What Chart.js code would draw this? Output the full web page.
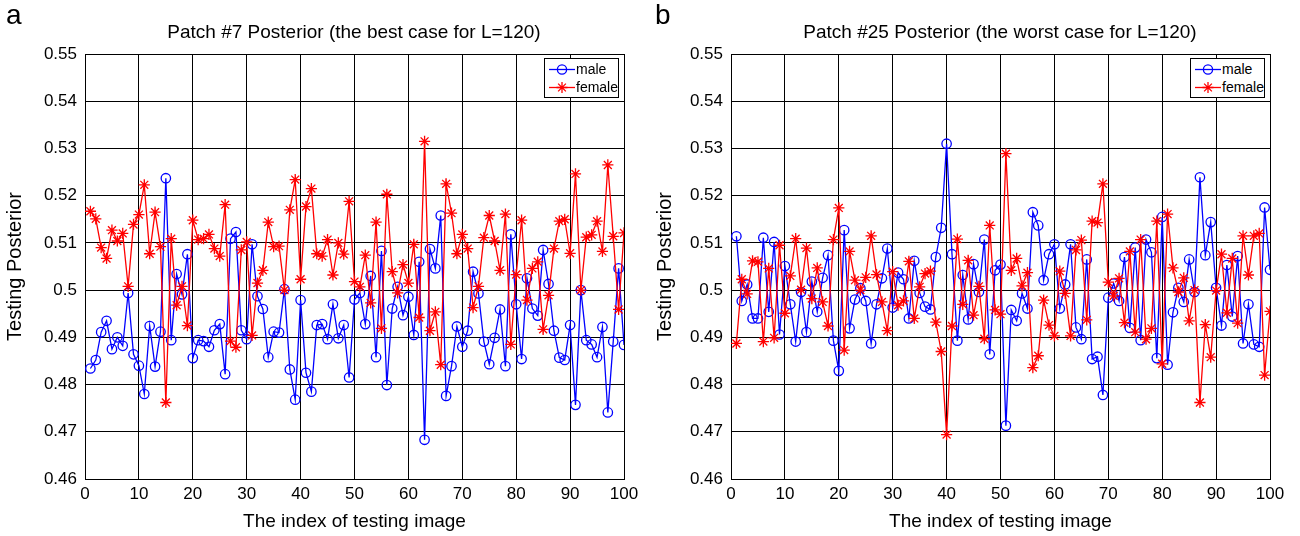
<!DOCTYPE html>
<html>
<head>
<meta charset="utf-8">
<script src="https://cdn.jsdelivr.net/npm/chart.js@4.4.0/dist/chart.umd.min.js"></script>
<style>
  html, body { margin: 0; padding: 0; background: #fff; }
  body { width: 1300px; height: 536px; position: relative; overflow: hidden; font-family: "Liberation Sans", Arial, sans-serif; color: #000; }
  .panel { position: absolute; top: 0; width: 650px; height: 536px; }
  .panel canvas { position: absolute; left: 0; top: 0; }
  .letter { position: absolute; top: 1px; font-size: 28px; line-height: 28px; }
  .title { position: absolute; top: 22px; font-size: 19px; line-height: 19px; white-space: nowrap; transform: translateX(-50%); }
  .legend { position: absolute; top: 58px; width: 73px; height: 38px; border: 1px solid #000; background: #fff; font-size: 14px; }
  .legend .row { position: absolute; left: 0; height: 17px; width: 73px; }
  .legend svg { position: absolute; left: 3px; top: 0; }
  .legend span { position: absolute; left: 31px; top: 0; line-height: 17px; }
</style>
</head>
<body>

<div class="panel" style="left:0"><canvas id="chartA" width="650" height="536"></canvas></div>
<div class="panel" style="left:650px"><canvas id="chartB" width="650" height="536"></canvas></div>

<div class="letter" style="left:6px">a</div>
<div class="letter" style="left:655px">b</div>
<div class="title" style="left:354px">Patch #7 Posterior (the best case for L=120)</div>
<div class="title" style="left:1000px">Patch #25 Posterior (the worst case for L=120)</div>

<div class="legend" id="legendA" style="left:544px"></div>
<div class="legend" id="legendB" style="left:1190px"></div>

<script>
// ================== DATA ===================
const seriesNames = ["male", "female"];
const xTicks = [0, 10, 20, 30, 40, 50, 60, 70, 80, 90, 100];
const xTickLabels = ["0", "10", "20", "30", "40", "50", "60", "70", "80", "90", "100"];
const yTicks = [0.46, 0.47, 0.48, 0.49, 0.50, 0.51, 0.52, 0.53, 0.54, 0.55];
const yTickLabels = ["0.46", "0.47", "0.48", "0.49", "0.5", "0.51", "0.52", "0.53", "0.54", "0.55"];

// testing image index 1..100
const imageIndex = [
  1, 2, 3, 4, 5, 6, 7, 8, 9, 10, 11, 12, 13, 14, 15, 16, 17, 18, 19, 20,
  21, 22, 23, 24, 25, 26, 27, 28, 29, 30, 31, 32, 33, 34, 35, 36, 37, 38, 39, 40,
  41, 42, 43, 44, 45, 46, 47, 48, 49, 50, 51, 52, 53, 54, 55, 56, 57, 58, 59, 60,
  61, 62, 63, 64, 65, 66, 67, 68, 69, 70, 71, 72, 73, 74, 75, 76, 77, 78, 79, 80,
  81, 82, 83, 84, 85, 86, 87, 88, 89, 90, 91, 92, 93, 94, 95, 96, 97, 98, 99, 100
];

// Patch #7 (panel a)
const maleA = [
  0.4834, 0.4852, 0.4911, 0.4935, 0.4875, 0.4900, 0.4882, 0.4994, 0.4864, 0.4840,
  0.4780, 0.4924, 0.4838, 0.4912, 0.5237, 0.4894, 0.5034, 0.4991, 0.5076, 0.4856,
  0.4894, 0.4892, 0.4880, 0.4915, 0.4928, 0.4822, 0.5109, 0.5123, 0.4915, 0.4896,
  0.5097, 0.4987, 0.4960, 0.4858, 0.4912, 0.4910, 0.5002, 0.4832, 0.4768, 0.4979,
  0.4825, 0.4785, 0.4926, 0.4928, 0.4896, 0.4970, 0.4898, 0.4926, 0.4815, 0.4980,
  0.4994, 0.4928, 0.5030, 0.4858, 0.5083, 0.4799, 0.4961, 0.5007, 0.4947, 0.4986,
  0.4905, 0.5060, 0.4683, 0.5087, 0.5046, 0.5158, 0.4776, 0.4839, 0.4923, 0.4880,
  0.4914, 0.5039, 0.4993, 0.4891, 0.4843, 0.4899, 0.4959, 0.4839, 0.5118, 0.4970,
  0.4854, 0.5025, 0.4961, 0.4946, 0.5085, 0.5013, 0.4914, 0.4857, 0.4852, 0.4926,
  0.4757, 0.5000, 0.4894, 0.4885, 0.4858, 0.4922, 0.4741, 0.4891, 0.5046, 0.4884
];
const femaleA = [
  0.5167, 0.5151, 0.5090, 0.5067, 0.5127, 0.5104, 0.5120, 0.5008, 0.5139, 0.5160,
  0.5223, 0.5077, 0.5165, 0.5092, 0.4762, 0.5109, 0.4968, 0.5008, 0.4925, 0.5148,
  0.5107, 0.5109, 0.5118, 0.5088, 0.5072, 0.5181, 0.4892, 0.4879, 0.5085, 0.5102,
  0.4904, 0.5015, 0.5042, 0.5144, 0.5092, 0.5093, 0.5000, 0.5170, 0.5234, 0.5023,
  0.5177, 0.5215, 0.5077, 0.5072, 0.5107, 0.5032, 0.5100, 0.5076, 0.5188, 0.5018,
  0.5007, 0.5074, 0.4973, 0.5144, 0.4919, 0.5203, 0.5039, 0.4994, 0.5054, 0.5015,
  0.5097, 0.4942, 0.5315, 0.4914, 0.4954, 0.4842, 0.5225, 0.5163, 0.5077, 0.5118,
  0.5088, 0.4963, 0.5008, 0.5111, 0.5158, 0.5104, 0.5042, 0.5161, 0.4885, 0.5033,
  0.5148, 0.4979, 0.5046, 0.5060, 0.4917, 0.4989, 0.5088, 0.5146, 0.5150, 0.5078,
  0.5246, 0.5000, 0.5112, 0.5117, 0.5146, 0.5082, 0.5265, 0.5114, 0.4959, 0.5121
];

// Patch #25 (panel b)
const maleB = [
  0.5114, 0.4977, 0.5012, 0.4940, 0.4940, 0.5111, 0.4954, 0.5102, 0.4906, 0.5051,
  0.4970, 0.4891, 0.4996, 0.4911, 0.5018, 0.4954, 0.5026, 0.5074, 0.4893, 0.4829,
  0.5127, 0.4919, 0.4980, 0.5004, 0.4977, 0.4887, 0.4970, 0.5025, 0.5088, 0.4963,
  0.5037, 0.5023, 0.4940, 0.5062, 0.4994, 0.4965, 0.4959, 0.5070, 0.5132, 0.5310,
  0.5076, 0.4893, 0.5032, 0.4938, 0.5055, 0.4996, 0.5107, 0.4864, 0.5042, 0.5054,
  0.4713, 0.4958, 0.4935, 0.4993, 0.4961, 0.5165, 0.5137, 0.5021, 0.5076, 0.5097,
  0.4961, 0.5012, 0.5097, 0.4921, 0.4896, 0.5065, 0.4854, 0.4859, 0.4778, 0.4984,
  0.5014, 0.4977, 0.5070, 0.4920, 0.5090, 0.4894, 0.5107, 0.5080, 0.4856, 0.5155,
  0.4842, 0.4953, 0.5005, 0.4975, 0.5065, 0.4996, 0.5239, 0.5074, 0.5144, 0.5005,
  0.4925, 0.5053, 0.4944, 0.5072, 0.4887, 0.4970, 0.4885, 0.4880, 0.5175, 0.5043
];
const femaleB = [
  0.4887, 0.5023, 0.4992, 0.5062, 0.5060, 0.4891, 0.5046, 0.4899, 0.5095, 0.4951,
  0.5030, 0.5109, 0.5001, 0.5089, 0.4982, 0.5047, 0.4975, 0.4924, 0.5107, 0.5174,
  0.4873, 0.5082, 0.5021, 0.5000, 0.5027, 0.5115, 0.5033, 0.4975, 0.4914, 0.5039,
  0.4968, 0.4977, 0.5061, 0.4940, 0.5007, 0.5035, 0.5040, 0.4932, 0.4870, 0.4694,
  0.4924, 0.5108, 0.4970, 0.5063, 0.4947, 0.5008, 0.4897, 0.5137, 0.4958, 0.4949,
  0.5289, 0.5042, 0.5067, 0.5009, 0.5037, 0.4836, 0.4861, 0.4979, 0.4926, 0.4903,
  0.5040, 0.4993, 0.4903, 0.5085, 0.5106, 0.4937, 0.5146, 0.5143, 0.5225, 0.5017,
  0.4988, 0.5025, 0.4931, 0.5082, 0.4911, 0.5107, 0.4896, 0.4919, 0.5146, 0.4844,
  0.5161, 0.5047, 0.4996, 0.5026, 0.4935, 0.5000, 0.4762, 0.4927, 0.4858, 0.4999,
  0.5076, 0.4952, 0.5067, 0.4930, 0.5115, 0.5032, 0.5115, 0.5120, 0.4820, 0.4955
];

const BLUE = "#0000ff";
const RED = "#ff0000";
const FONT = "'Liberation Sans', Arial, sans-serif";

// ================== CHARTS ===================
function toPoints(values) {
  return values.map((v, i) => ({ x: imageIndex[i], y: v }));
}

function renderPanel(canvasId, maleVals, femaleVals, yAxisWidth, rightPad) {
  const ctx = document.getElementById(canvasId).getContext("2d");

  new Chart(ctx, {
    type: "line",
    data: {
      datasets: [
        {
          label: seriesNames[0],
          data: toPoints(maleVals),
          borderColor: BLUE,
          borderWidth: 1.3,
          backgroundColor: "rgba(0,0,0,0)",
          pointStyle: "circle",
          pointRadius: 4.7,
          pointBorderWidth: 1.3,
          pointBorderColor: BLUE,
          pointBackgroundColor: "rgba(0,0,0,0)",
          tension: 0,
          order: 2
        },
        {
          label: seriesNames[1],
          data: toPoints(femaleVals),
          borderColor: RED,
          borderWidth: 1.3,
          backgroundColor: "rgba(0,0,0,0)",
          pointStyle: "star",
          pointRadius: 5.6,
          pointBorderWidth: 1.3,
          pointBorderColor: RED,
          tension: 0,
          order: 1
        }
      ]
    },
    options: {
      responsive: false,
      animation: false,
      layout: { padding: { top: 54, right: rightPad, bottom: 0, left: 0 } },
      plugins: {
        legend: { display: false },
        tooltip: { enabled: false }
      },
      scales: {
        x: {
          type: "linear",
          min: 0,
          max: 100,
          afterBuildTicks: scale => { scale.ticks = xTicks.map(v => ({ value: v })); },
          afterFit: scale => { scale.height = 57; },
          ticks: {
            callback: (value, index) => xTickLabels[index],
            color: "#000",
            font: { family: FONT, size: 17 },
            padding: 5,
            maxRotation: 0,
            autoSkip: false
          },
          grid: { color: "#000", lineWidth: 1, drawTicks: false },
          border: { color: "#000", width: 1 },
          title: {
            display: true,
            text: "The index of testing image",
            color: "#000",
            font: { family: FONT, size: 19 },
            padding: { top: 0, bottom: 3 }
          }
        },
        y: {
          type: "linear",
          min: 0.46,
          max: 0.55,
          afterBuildTicks: scale => { scale.ticks = yTicks.map(v => ({ value: v })); },
          afterFit: scale => { scale.width = yAxisWidth; },
          ticks: {
            callback: (value, index) => yTickLabels[index],
            color: "#000",
            font: { family: FONT, size: 17 },
            padding: 8,
            autoSkip: false
          },
          grid: { color: "#000", lineWidth: 1, drawTicks: false },
          border: { color: "#000", width: 1 },
          title: {
            display: true,
            text: "Testing Posterior",
            color: "#000",
            font: { family: FONT, size: 20 },
            padding: { top: 3, bottom: 0 }
          }
        }
      }
    }
  });
}

// ================== LEGEND ===================
function markerSvg(color, style) {
  let marker = "";
  if (style === "circle") {
    marker = '<circle cx="14" cy="8.5" r="4.6" fill="none" stroke="' + color + '" stroke-width="1.3"/>';
  } else {
    const r = 5.5, d = r * Math.SQRT1_2;
    marker =
      '<path d="M14 ' + (8.5 - r) + ' V' + (8.5 + r) +
      ' M' + (14 - r) + ' 8.5 H' + (14 + r) +
      ' M' + (14 - d) + ' ' + (8.5 - d) + ' L' + (14 + d) + ' ' + (8.5 + d) +
      ' M' + (14 - d) + ' ' + (8.5 + d) + ' L' + (14 + d) + ' ' + (8.5 - d) +
      '" stroke="' + color + '" stroke-width="1.3" fill="none"/>';
  }
  return '<svg width="28" height="17">' +
    '<line x1="1" y1="8.5" x2="27" y2="8.5" stroke="' + color + '" stroke-width="1.3"/>' +
    marker + '</svg>';
}

function renderLegend(id) {
  const box = document.getElementById(id);
  box.innerHTML =
    '<div class="row" style="top:2px">' + markerSvg(BLUE, "circle") + '<span>' + seriesNames[0] + '</span></div>' +
    '<div class="row" style="top:19.5px">' + markerSvg(RED, "star") + '<span>' + seriesNames[1] + '</span></div>';
}

renderPanel("chartA", maleA, femaleA, 85, 26);
renderPanel("chartB", maleB, femaleB, 81, 30);
renderLegend("legendA");
renderLegend("legendB");
</script>
</body>
</html>
